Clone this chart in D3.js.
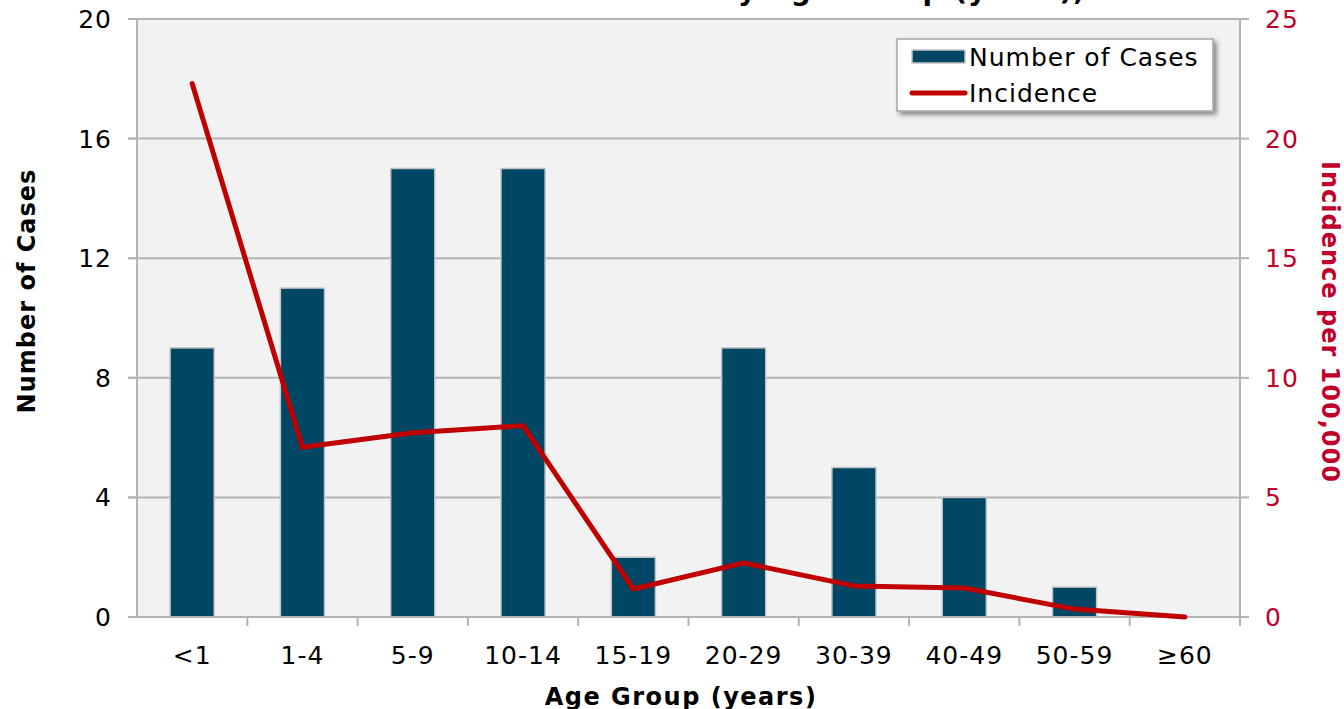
<!DOCTYPE html>
<html><head><meta charset="utf-8">
<script src="https://cdn.jsdelivr.net/npm/d3@7"></script>
<style>body{margin:0;background:#fff;}svg{display:block;font-family:"DejaVu Sans",Verdana,sans-serif;}</style>
</head><body>
<svg id="chart" width="1344" height="709"></svg>
<script>
const categories = ["<1","1-4","5-9","10-14","15-19","20-29","30-39","40-49","50-59","\u226560"];
const cases = [9,11,15,15,2,9,5,4,1,0];
const incidence = [22.3,7.1,7.7,8.0,1.17,2.26,1.30,1.21,0.33,0.0];
const leftTicks = [0,4,8,12,16,20];
const rightTicks = [0,5,10,15,20,25];
const title = "Pertussis Cases and Incidence by Age Group (years), 2012";

const svg = d3.select("#chart");
const L = 137, R = 1240, T = 19, B = 617;
const barColor = "#004766", lineColor = "#c00000", rightColor = "#c0002a", gridColor = "#b3b3b3";

const x = d3.scaleBand().domain(categories).range([L, R]).paddingInner(0.6).paddingOuter(0.3);
const xb = d3.scaleBand().domain(categories).range([L, R]);
const y = d3.scaleLinear().domain([0,20]).range([B, T]);
const y2 = d3.scaleLinear().domain([0,25]).range([B, T]);

const defs = svg.append("defs");
const f = defs.append("filter").attr("id","sh").attr("x","-10%").attr("y","-20%").attr("width","130%").attr("height","160%");
f.append("feDropShadow").attr("dx",3).attr("dy",3).attr("stdDeviation",2.5).attr("flood-color","#000").attr("flood-opacity",0.45);

// title (mostly clipped off top, as in the reference)
const tt = svg.append("text").attr("y",0).attr("font-weight","bold").attr("font-size",28).attr("letter-spacing",1).attr("fill","#000").text(title);
const idx = title.indexOf("by ") + 1;
const off = tt.node().getSubStringLength(0, idx);
tt.attr("x", 738 - off);

svg.append("rect").attr("x",L).attr("y",T).attr("width",R-L).attr("height",B-T).attr("fill","#f2f2f2");

svg.append("g").selectAll("line").data(leftTicks.slice(1)).join("line")
  .attr("x1",L-9).attr("x2",R).attr("y1",d=>y(d)).attr("y2",d=>y(d))
  .attr("stroke",gridColor).attr("stroke-width",2);

svg.append("g").selectAll("rect").data(categories).join("rect")
  .attr("x",d=>x(d)).attr("width",x.bandwidth())
  .attr("y",(d,i)=>y(cases[i])).attr("height",(d,i)=>B-y(cases[i]))
  .attr("fill",barColor).attr("stroke","#c4c4c4").attr("stroke-width",1.5);

svg.append("line").attr("x1",L).attr("x2",L).attr("y1",T).attr("y2",B).attr("stroke",gridColor).attr("stroke-width",2);
svg.append("line").attr("x1",R).attr("x2",R).attr("y1",T).attr("y2",B+8).attr("stroke",gridColor).attr("stroke-width",2);
svg.append("line").attr("x1",L-9).attr("x2",R+9).attr("y1",B).attr("y2",B).attr("stroke",gridColor).attr("stroke-width",2);

const gl = svg.append("g");
gl.selectAll("line").data(leftTicks).join("line").attr("x1",L-9).attr("x2",L).attr("y1",d=>y(d)).attr("y2",d=>y(d)).attr("stroke",gridColor).attr("stroke-width",2);
gl.selectAll("text").data(leftTicks).join("text").attr("x",112).attr("y",d=>y(d)).attr("dy","0.36em")
  .attr("text-anchor","end").attr("font-size",25).attr("letter-spacing",1).attr("fill","#000").text(d=>d);

const gr = svg.append("g");
gr.selectAll("line").data(rightTicks).join("line").attr("x1",R).attr("x2",R+9).attr("y1",d=>y2(d)).attr("y2",d=>y2(d)).attr("stroke",gridColor).attr("stroke-width",2);
gr.selectAll("text").data(rightTicks).join("text").attr("x",1265).attr("y",d=>y2(d)).attr("dy","0.36em")
  .attr("text-anchor","start").attr("font-size",25).attr("letter-spacing",1).attr("fill",rightColor).text(d=>d);

const bounds = categories.slice(1).map(c=>xb(c)).concat([R]);
svg.append("g").selectAll("line").data(bounds).join("line").attr("x1",d=>d).attr("x2",d=>d).attr("y1",B).attr("y2",B+9).attr("stroke",gridColor).attr("stroke-width",2);
svg.append("g").selectAll("text").data(categories).join("text")
  .attr("x",d=>xb(d)+xb.bandwidth()/2).attr("y",655).attr("dy","0.36em").attr("text-anchor","middle")
  .attr("font-size",25).attr("letter-spacing",1).attr("fill","#000").text(d=>d);

const line = d3.line().x((d,i)=>xb(categories[i])+xb.bandwidth()/2).y(d=>y2(d));
svg.append("path").datum(incidence).attr("d",line).attr("fill","none").attr("stroke",lineColor)
  .attr("stroke-width",5).attr("stroke-linejoin","round").attr("stroke-linecap","round");

svg.append("text").attr("transform","translate(35,291) rotate(-90)").attr("text-anchor","middle")
  .attr("font-weight","bold").attr("font-size",24).attr("letter-spacing",1).attr("fill","#000").text("Number of Cases");
svg.append("text").attr("transform","translate(1322,322) rotate(90)").attr("text-anchor","middle")
  .attr("font-weight","bold").attr("font-size",24).attr("letter-spacing",1).attr("fill",rightColor).text("Incidence per 100,000");
svg.append("text").attr("x",681).attr("y",696).attr("dy","0.36em").attr("text-anchor","middle")
  .attr("font-weight","bold").attr("font-size",24).attr("letter-spacing",1.5).attr("fill","#000").text("Age Group (years)");

const lg = svg.append("g");
lg.append("rect").attr("x",897).attr("y",39).attr("width",316).attr("height",72).attr("fill","#fff")
  .attr("stroke","#a6a6a6").attr("stroke-width",1.5).attr("filter","url(#sh)");
lg.append("rect").attr("x",912).attr("y",50).attr("width",53).attr("height",13).attr("fill",barColor).attr("stroke","#c4c4c4").attr("stroke-width",1.5);
lg.append("line").attr("x1",912).attr("x2",965).attr("y1",93).attr("y2",93).attr("stroke",lineColor).attr("stroke-width",5).attr("stroke-linecap","round");
lg.append("text").attr("x",969).attr("y",57).attr("dy","0.36em").attr("font-size",25).attr("letter-spacing",1).attr("fill","#000").text("Number of Cases");
lg.append("text").attr("x",969).attr("y",93).attr("dy","0.36em").attr("font-size",25).attr("letter-spacing",1).attr("fill","#000").text("Incidence");
</script>
</body></html>
